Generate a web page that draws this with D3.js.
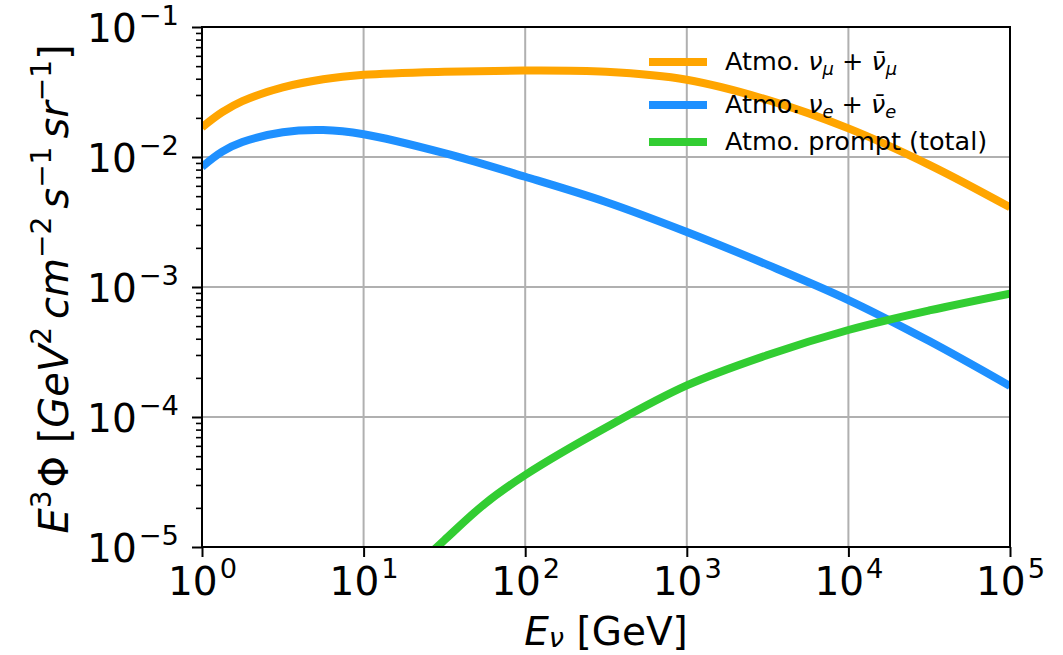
<!DOCTYPE html>
<html>
<head>
<meta charset="utf-8">
<script src="https://cdn.jsdelivr.net/npm/d3@7"></script>
<style>
  body { margin: 0; background: #fff; }
  text { font-family: "DejaVu Sans", sans-serif; fill: #000; }
</style>
</head>
<body>
<svg id="chart" width="1063" height="655"></svg>
<script>
// Neutrino energy grid (GeV) for the conventional fluxes
const energyGeV = [1, 1.334, 1.778, 3.162, 5.623, 10, 31.62, 100, 316.2, 1000, 3162, 10000, 31623, 100000];
// E^3 * flux, GeV^2 cm^-2 s^-1 sr^-1
const numuFlux = [0.0169, 0.0221, 0.0269, 0.0343, 0.0396, 0.0429, 0.0453, 0.0462, 0.0452, 0.0393, 0.0275, 0.0166, 0.0087, 0.0041];
const nueFlux  = [0.0084, 0.011, 0.01303, 0.0155, 0.0161, 0.01496, 0.0107, 0.00705, 0.00451, 0.00265, 0.00148, 0.000794, 0.000384, 0.000173];
// Prompt component energy grid and flux
const promptEnergyGeV = [20, 31.62, 56.23, 100, 316.2, 1000, 3162, 10000, 31623, 100000];
const promptFlux = [6.6e-6, 1.13e-5, 2.15e-5, 3.58e-5, 8.3e-5, 1.75e-4, 3.0e-4, 4.67e-4, 6.6e-4, 8.9e-4];

const xTickExponents = [0, 1, 2, 3, 4, 5];
const yTickExponents = [-5, -4, -3, -2, -1];

const seriesNames = ["numu", "nue", "prompt"];
const seriesColors = { numu: "#FFA500", nue: "#1E90FF", prompt: "#32CD32" };

const W = 1063, H = 655;
const margin = { left: 202, top: 27, right: 53, bottom: 108 };
const iw = W - margin.left - margin.right;
const ih = H - margin.top - margin.bottom;

const svg = d3.select("#chart");
const g = svg.append("g").attr("transform", `translate(${margin.left},${margin.top})`);

const x = d3.scaleLog().domain([1, 1e5]).range([0, iw]);
const y = d3.scaleLog().domain([1e-5, 1e-1]).range([ih, 0]);

const baseFont = 39;

// Appends styled runs (italic / superscript / subscript) to a text node
function addRuns(textSel, runs, size, subDrop) {
  const drop = subDrop === undefined ? 0.2 : subDrop;
  let shift = 0;
  runs.forEach(r => {
    let target = 0, fs = size;
    if (r.sup) { target = -0.43 * size; fs = 0.7 * size; }
    if (r.sub) { target = drop * size; fs = 0.7 * size; }
    const ts = textSel.append("tspan")
      .attr("dy", target - shift)
      .attr("font-size", fs)
      .text(r.t);
    if (r.i) ts.attr("font-style", "italic");
    if (r.dx) ts.attr("dx", r.dx);
    shift = target;
  });
}

function powLabel(sel, exp) {
  sel.text(null);
  const e = exp < 0 ? "\u2212" + (-exp) : String(exp);
  addRuns(sel, [{ t: "10" }, { t: e, sup: true, dx: 2 }], baseFont);
}

// grid
g.append("g").selectAll("line")
  .data(xTickExponents.map(e => Math.pow(10, e)))
  .join("line")
  .attr("x1", d => x(d)).attr("x2", d => x(d))
  .attr("y1", 0).attr("y2", ih)
  .attr("stroke", "#b0b0b0").attr("stroke-width", 2);
g.append("g").selectAll("line")
  .data(yTickExponents.map(e => Math.pow(10, e)))
  .join("line")
  .attr("x1", 0).attr("x2", iw)
  .attr("y1", d => y(d)).attr("y2", d => y(d))
  .attr("stroke", "#b0b0b0").attr("stroke-width", 2);

// curves
svg.append("defs").append("clipPath").attr("id", "plotClip")
  .append("rect").attr("width", iw).attr("height", ih);

const line = d3.line()
  .x(d => x(d[0])).y(d => y(d[1]))
  .curve(d3.curveCatmullRom.alpha(0.5));

const seriesData = {
  numu: energyGeV.map((e, i) => [e, numuFlux[i]]),
  nue: energyGeV.map((e, i) => [e, nueFlux[i]]),
  prompt: promptEnergyGeV.map((e, i) => [e, promptFlux[i]])
};

const curves = g.append("g").attr("clip-path", "url(#plotClip)");
seriesNames.forEach(name => {
  curves.append("path")
    .attr("d", line(seriesData[name]))
    .attr("fill", "none")
    .attr("stroke", seriesColors[name])
    .attr("stroke-width", 8)
    .attr("stroke-linejoin", "round");
});

// axes
const xAxis = d3.axisBottom(x)
  .tickValues(xTickExponents.map(e => Math.pow(10, e)))
  .tickSize(10).tickPadding(10)
  .tickFormat("");
const xg = g.append("g").attr("transform", `translate(0,${ih})`).call(xAxis);
xg.select(".domain").remove();
xg.selectAll(".tick line").attr("stroke", "#000").attr("stroke-width", 2);
xg.selectAll(".tick text")
  .attr("y", 48).attr("dy", null)
  .attr("font-size", baseFont)
  .each(function (d, i) { powLabel(d3.select(this), xTickExponents[i]); });

const yMinor = [];
yTickExponents.slice(0, -1).forEach(e => {
  for (let k = 2; k <= 9; k++) yMinor.push(k * Math.pow(10, e));
});
const yMinorAxis = d3.axisLeft(y).tickValues(yMinor).tickSize(6).tickFormat("");
const ymg = g.append("g").call(yMinorAxis);
ymg.select(".domain").remove();
ymg.selectAll(".tick line").attr("stroke", "#000").attr("stroke-width", 1.6);

const yAxis = d3.axisLeft(y)
  .tickValues(yTickExponents.map(e => Math.pow(10, e)))
  .tickSize(10).tickPadding(13)
  .tickFormat("");
const yg = g.append("g").call(yAxis);
yg.select(".domain").remove();
yg.selectAll(".tick line").attr("stroke", "#000").attr("stroke-width", 2);
yg.selectAll(".tick text")
  .attr("x", -23).attr("dy", null).attr("y", 14.5)
  .attr("text-anchor", "end")
  .attr("font-size", baseFont)
  .each(function (d, i) { powLabel(d3.select(this), yTickExponents[i]); });

// frame
g.append("rect").attr("width", iw).attr("height", ih)
  .attr("fill", "none").attr("stroke", "#000").attr("stroke-width", 2);

// axis titles
const xt = svg.append("text")
  .attr("x", margin.left + iw / 2).attr("y", 645)
  .attr("text-anchor", "middle").attr("font-size", baseFont);
addRuns(xt, [
  { t: "E", i: true },
  { t: "\u03BD", i: true, sub: true },
  { t: " [GeV]" }
], baseFont, 0.06);

const yFont = 40;
const yt = svg.append("text")
  .attr("transform", `translate(68,${margin.top + ih / 2 + 2}) rotate(-90)`)
  .attr("text-anchor", "middle").attr("font-size", yFont);
addRuns(yt, [
  { t: "E", i: true },
  { t: "3", sup: true },
  { t: "\u03A6 [" , dx: 3 },
  { t: "GeV", i: true },
  { t: "2", sup: true },
  { t: "\u2009cm", i: true },
  { t: "\u22122", sup: true },
  { t: "\u2009s", i: true },
  { t: "\u22121", sup: true },
  { t: "\u2009sr", i: true },
  { t: "\u22121", sup: true },
  { t: "]" }
], yFont);

// legend
const legendFont = 25.5;
const legendRows = [
  { name: "numu", y: 62, runs: [
    { t: "Atmo. " }, { t: "\u03BD", i: true }, { t: "\u03BC", i: true, sub: true },
    { t: " + " }, { t: "\u03BD\u0304", i: true }, { t: "\u03BC", i: true, sub: true }] },
  { name: "nue", y: 105, runs: [
    { t: "Atmo. " }, { t: "\u03BD", i: true }, { t: "e", i: true, sub: true },
    { t: " + " }, { t: "\u03BD\u0304", i: true }, { t: "e", i: true, sub: true }] },
  { name: "prompt", y: 142, runs: [{ t: "Atmo. prompt (total)" }] }
];
const lg = svg.append("g");
legendRows.forEach(r => {
  lg.append("line")
    .attr("x1", 649).attr("x2", 707).attr("y1", r.y).attr("y2", r.y)
    .attr("stroke", seriesColors[r.name]).attr("stroke-width", 8);
  const t = lg.append("text").attr("x", 725).attr("y", r.y + 8).attr("font-size", legendFont);
  addRuns(t, r.runs, legendFont);
});
</script>
</body>
</html>
